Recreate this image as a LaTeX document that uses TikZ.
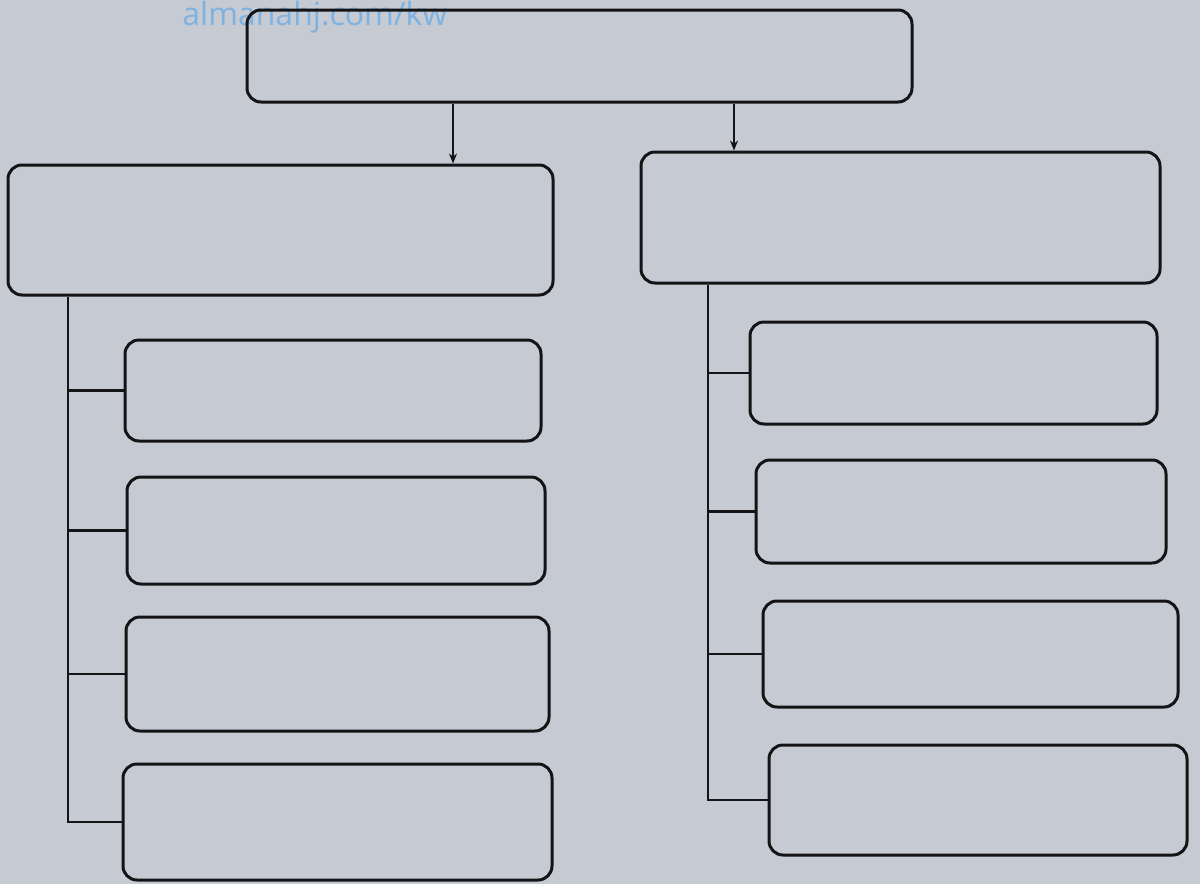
\documentclass[tikz,border=0pt]{standalone}
\usepackage{fontspec}
\newfontfamily\wmfont{Open Sans}
\usetikzlibrary{arrows.meta}
\definecolor{paper}{RGB}{198,202,211}
\definecolor{ink}{RGB}{20,20,22}
\definecolor{wm}{RGB}{125,178,225}
\tikzset{
  box/.style={draw=ink, line width=1.5pt, rounded corners=7pt, inner sep=0pt},
  link/.style={draw=ink, line width=1.1pt},
  arr/.style={link, -{Stealth[length=5pt,width=4pt]}}
}
\begin{document}
\begin{tikzpicture}[x=0.5pt,y=-0.5pt]
\fill[paper] (0,0) rectangle (1200,884);
\useasboundingbox (0,0) rectangle (1200,884);
\node[wm, font=\wmfont\fontsize{16}{18}\selectfont, anchor=base west, inner sep=0pt] (wmk) at (182,25) {almanahj.com/kw};
% boxes
\node[box, minimum width=332.5pt, minimum height=46pt] (top) at (579.5,56) {};
\node[box, minimum width=272.5pt, minimum height=65pt] (L) at (280.5,230) {};
\node[box, minimum width=259.5pt, minimum height=65.5pt] (R) at (900.5,217.5) {};
\node[box, minimum width=208pt, minimum height=50.5pt] (l1) at (333,390.5) {};
\node[box, minimum width=209pt, minimum height=53.5pt] (l2) at (336,530.5) {};
\node[box, minimum width=211.5pt, minimum height=57pt] (l3) at (337.5,674) {};
\node[box, minimum width=214.5pt, minimum height=58pt] (l4) at (337.5,822) {};
\node[box, minimum width=203.5pt, minimum height=51pt] (r1) at (953.5,373) {};
\node[box, minimum width=205pt, minimum height=51.5pt] (r2) at (961,511.5) {};
\node[box, minimum width=207.5pt, minimum height=53pt] (r3) at (970.5,654) {};
\node[box, minimum width=209pt, minimum height=55pt] (r4) at (978,800) {};
% arrows
\coordinate (a1) at (453,0);
\coordinate (a2) at (734,0);
\draw[arr] (top.south -| a1) -- (L.north -| a1);
\draw[arr] (top.south -| a2) -- (R.north -| a2);
% left tree
\coordinate (tl) at (68,0);
\draw[link] (L.south -| tl) |- (l4.west);
\draw[link] (tl |- l1.west) -- (l1.west);
\draw[link] (tl |- l2.west) -- (l2.west);
\draw[link] (tl |- l3.west) -- (l3.west);
% right tree
\coordinate (tr) at (708,0);
\draw[link] (R.south -| tr) |- (r4.west);
\draw[link] (tr |- r1.west) -- (r1.west);
\draw[link] (tr |- r2.west) -- (r2.west);
\draw[link] (tr |- r3.west) -- (r3.west);
\end{tikzpicture}
\end{document}
